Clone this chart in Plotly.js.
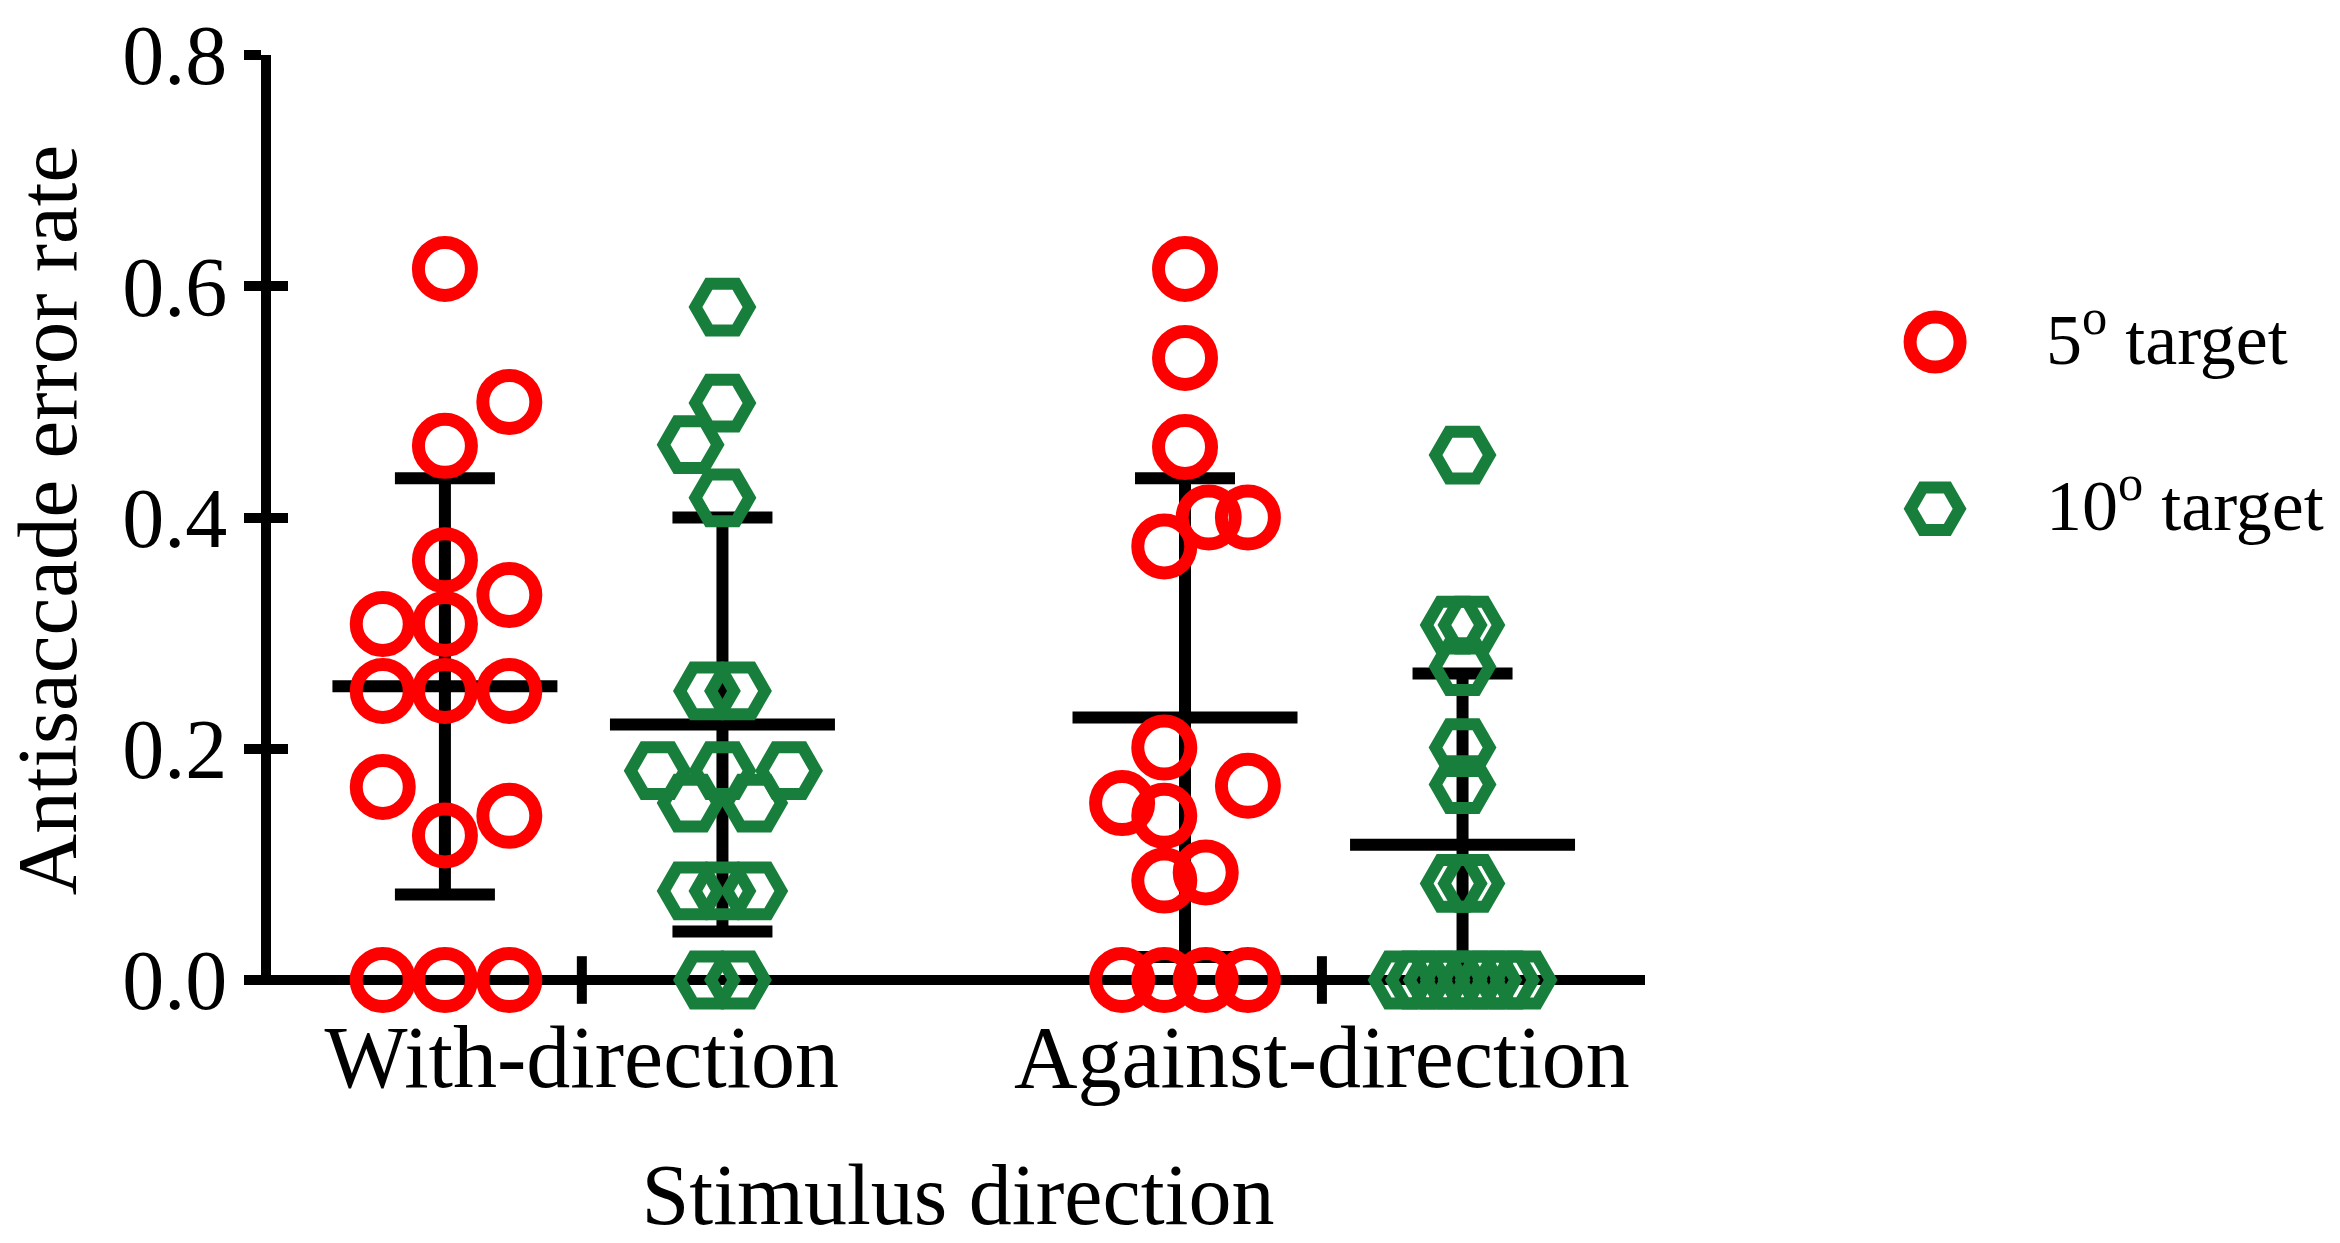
<!DOCTYPE html>
<html><head><meta charset="utf-8">
<script src="https://cdn.plot.ly/plotly-3.0.1.min.js"></script>
<style>html,body{margin:0;padding:0;background:#fff;} #chart{width:2340px;height:1243px;}</style>
</head><body><div id="chart"></div>
<script>
// ---- data ----
const categories = ['With-direction', 'Against-direction'];
const categoryPos = [0, 1];
const seriesNames = ['5<sup>o</sup> target', '10<sup>o</sup> target'];
const yTickVals = [0, 0.2, 0.4, 0.6, 0.8];
const yTickText = ['0.0', '0.2', '0.4', '0.6', '0.8'];

// 5° target, individual subjects
const with5 = [0.615, 0.50, 0.462, 0.363, 0.333, 0.308, 0.308, 0.25, 0.25, 0.25, 0.167, 0.142, 0.125, 0, 0, 0];
const with5Jitter = [0, 0.087, 0, 0, 0.087, -0.084, 0, -0.084, 0, 0.087, -0.084, 0.087, 0, -0.084, 0, 0.087];
const against5 = [0.615, 0.538, 0.461, 0.400, 0.400, 0.375, 0.201, 0.168, 0.153, 0.142, 0.093, 0.086, 0, 0, 0, 0];
const against5Jitter = [0, 0, 0, 0.032, 0.085, -0.028, -0.028, 0.085, -0.085, -0.028, 0.028, -0.028, -0.085, -0.028, 0.028, 0.085];

// 10° target, individual subjects
const with10 = [0.582, 0.499, 0.463, 0.417, 0.25, 0.25, 0.181, 0.181, 0.181, 0.153, 0.153, 0.077, 0.077, 0.077, 0, 0];
const with10Jitter = [0, 0, -0.043, 0, -0.021, 0.021, -0.0875, 0, 0.09, -0.043, 0.043, -0.043, 0, 0.043, -0.021, 0.021];
const against10 = [0.454, 0.307, 0.307, 0.271, 0.201, 0.169, 0.0835, 0.0835, 0, 0, 0, 0, 0, 0, 0, 0];
const against10Jitter = [0, -0.012, 0.012, 0, 0, 0, -0.012, 0.012, -0.0825, -0.059, -0.035, -0.012, 0.012, 0.035, 0.059, 0.0825];

// mean and SD per category
const mean5 = [0.254, 0.227];
const sd5 = [0.180, 0.207];
const mean10 = [0.221, 0.117];
const sd10 = [0.179, 0.148];

// ---- styling / layout ----
const FONT = 'Liberation Serif, Times New Roman, serif';
const RED = '#FF0000';
const GREEN = '#177F3B';
const OFF5 = -0.185, OFF10 = 0.19;   // column offset within each category
const MEANHALF = 0.152;
const XR = [-0.42, 1.4365];
const YR = [-0.00432, 0.8];

function pointsX(off, jw, ja) {
  return jw.map(j => categoryPos[0] + off + j).concat(ja.map(j => categoryPos[1] + off + j));
}
function meanLine(off, means) {
  const x = [], y = [];
  means.forEach((m, i) => { x.push(categoryPos[i] + off - MEANHALF, categoryPos[i] + off + MEANHALF, null); y.push(m, m, null); });
  return {x, y};
}
function errTrace(off, means, sds) {
  return {
    x: means.map((m, i) => categoryPos[i] + off), y: means, mode: 'markers', type: 'scatter',
    marker: {size: 1, color: 'rgba(0,0,0,0)'},
    error_y: {type: 'data', symmetric: false, array: sds, arrayminus: sds.map((s, i) => Math.min(s, means[i])),
              color: '#000', thickness: 12, width: 50},
    showlegend: false, hoverinfo: 'skip', cliponaxis: false
  };
}
const m5 = meanLine(OFF5, mean5), m10 = meanLine(OFF10, mean10);

const traces = [
  // x-axis category ticks (cross style, centred on the axis line)
  {x: categoryPos, y: categoryPos.map(() => 0), mode: 'markers', type: 'scatter',
   marker: {symbol: 'line-ns', size: 34, color: '#000', line: {width: 10, color: '#000'}},
   showlegend: false, hoverinfo: 'skip', cliponaxis: false},
  errTrace(OFF5, mean5, sd5),
  errTrace(OFF10, mean10, sd10),
  {x: m5.x, y: m5.y, mode: 'lines', type: 'scatter', line: {color: '#000', width: 12}, showlegend: false, hoverinfo: 'skip', cliponaxis: false},
  {x: m10.x, y: m10.y, mode: 'lines', type: 'scatter', line: {color: '#000', width: 12}, showlegend: false, hoverinfo: 'skip', cliponaxis: false},
  {x: pointsX(OFF5, with5Jitter, against5Jitter), y: with5.concat(against5), mode: 'markers', type: 'scatter',
   name: seriesNames[0], marker: {symbol: 'circle-open', size: 53, color: RED, line: {width: 13, color: RED}}, cliponaxis: false, showlegend: false},
  {x: pointsX(OFF10, with10Jitter, against10Jitter), y: with10.concat(against10), mode: 'markers', type: 'scatter',
   name: seriesNames[1], marker: {symbol: 'hexagon2-open', size: 54, color: GREEN, line: {width: 12, color: GREEN}}, cliponaxis: false, showlegend: false},
  // dummy trace so the overlay tick axis is drawn
  {x: [null], y: [null], xaxis: 'x', yaxis: 'y2', showlegend: false, hoverinfo: 'skip'},
  // legend markers
  {x: [0], y: [1], xaxis: 'x3', yaxis: 'y3', mode: 'markers', type: 'scatter',
   marker: {symbol: 'circle-open', size: 50, color: RED, line: {width: 13, color: RED}}, cliponaxis: false, showlegend: false, hoverinfo: 'skip'},
  {x: [0], y: [0], xaxis: 'x3', yaxis: 'y3', mode: 'markers', type: 'scatter',
   marker: {symbol: 'hexagon2-open', size: 49, color: GREEN, line: {width: 12, color: GREEN}}, cliponaxis: false, showlegend: false, hoverinfo: 'skip'}
];

const mainDomainX = [0, 0.6673];
const layout = {
  width: 2340, height: 1243,
  margin: {l: 271, r: 10, t: 55, b: 258},
  paper_bgcolor: '#fff', plot_bgcolor: 'rgba(0,0,0,0)',
  showlegend: false,
  font: {family: FONT, color: '#000'},
  xaxis: {
    domain: mainDomainX, range: XR, tickvals: categoryPos, ticktext: categories,
    ticks: '', showline: false, showgrid: false, zeroline: false,
    tickfont: {family: FONT, size: 88, color: '#000'}, ticklabelstandoff: 13,
    title: {text: 'Stimulus direction', font: {family: FONT, size: 86, color: '#000'}, standoff: 83},
    anchor: 'y', fixedrange: true, automargin: false
  },
  yaxis: {
    domain: [0, 1], range: YR, tickvals: yTickVals, ticktext: yTickText,
    ticks: 'outside', ticklen: 17, tickwidth: 10, tickcolor: '#000',
    showline: true, linewidth: 10, linecolor: '#000', showgrid: false,
    zeroline: true, zerolinewidth: 10, zerolinecolor: '#000',
    tickfont: {family: FONT, size: 84, color: '#000'},
    title: {text: 'Antisaccade error rate', font: {family: FONT, size: 85, color: '#000'}, standoff: 30},
    anchor: 'x', fixedrange: true, automargin: false
  },
  yaxis2: {
    overlaying: 'y', anchor: 'x', domain: [0, 1], range: YR, tickvals: yTickVals,
    ticks: 'inside', ticklen: 17, tickwidth: 10, tickcolor: '#000',
    showticklabels: false, showline: false, showgrid: false, zeroline: false, side: 'left'
  },
  xaxis3: {domain: [0.8082, 0.8611], range: [0, 1], visible: false, anchor: 'y3', fixedrange: true},
  yaxis3: {domain: [0.512, 0.6913], range: [0, 1], visible: false, anchor: 'x3', fixedrange: true},
  annotations: seriesNames.map((t, i) => ({
    text: t, xref: 'x3', yref: 'y3', x: 1, y: 1 - i, xanchor: 'left', yanchor: 'middle', yshift: 8,
    showarrow: false, font: {family: FONT, size: 72, color: '#000'}
  }))
};

Plotly.newPlot('chart', traces, layout, {staticPlot: true, displayModeBar: false});
</script>
</body></html>
